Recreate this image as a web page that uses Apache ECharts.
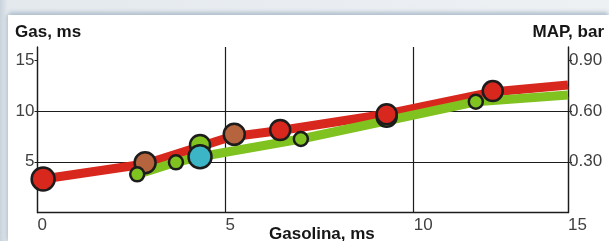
<!DOCTYPE html>
<html>
<head>
<meta charset="utf-8">
<script src="https://cdn.jsdelivr.net/npm/echarts@6/dist/echarts.min.js"></script>
<style>
	html, body { margin: 0; padding: 0; }
	body {
		width: 609px; height: 241px; overflow: hidden; position: relative;
		background: linear-gradient(90deg, #c9d3dc 0px, #e4e9ee 8px, #eef1f4 100%);
	}
	#panel {
		position: absolute; left: 8px; top: 15px; right: 0; bottom: 0;
		background: #fff;
		box-shadow: 0 -4px 4px -1px #b3c2cf, -2px 0 3px #c3ccd5;
	}
	#chart { position: absolute; left: 0; top: 0; width: 609px; height: 241px; }
</style>
</head>
<body>
<div id="panel"></div>
<div id="chart"></div>
<script>
	// axis extents (the "15" label sits at the right end)
	var xMax = 14.1;
	var yMax = 16.28;
	var mapPerMs = 0.06;

	var xTickValues = [0, 5, 10, xMax];
	var xTickLabels = ['0', '5', '10', '15'];
	var yLeftTicks = [5, 10, 15];
	var yRightTicks = [0.3, 0.6, 0.9];

	// thick curves [gasolina ms, gas ms]
	var redCurve = [[0.15, 3.31], [2.86, 4.78], [5.12, 7.44], [6.45, 8.07], [9.29, 9.70], [12.08, 11.85], [14.1, 12.54]];
	var greenCurve = [[2.65, 3.77], [3.68, 4.95], [4.32, 5.50], [7.0, 7.24], [11.65, 10.90], [14.1, 11.56]];

	// measured points
	var redDots = [[0.15, 3.31], [6.45, 8.12], [9.28, 9.67], [12.1, 11.95]];
	var brownDots = [[2.86, 4.91], [5.23, 7.70]];
	var greenBigDots = [[4.32, 6.65], [9.28, 9.42]];
	var greenSmallDots = [[2.65, 3.77], [3.68, 4.95], [7.0, 7.24], [11.65, 10.90]];
	var cyanDots = [[4.32, 5.50]];

	var ink = '#1c1c1c';
	var labelFont = { color: '#404040', fontSize: 17, fontFamily: 'Liberation Sans' };
	var titleFont = { fill: '#161616', fontSize: 17, fontWeight: 'bold', fontFamily: 'Liberation Sans' };

	var dots = function(data, color, size, z) {
		return {
			type: 'scatter', data: data, z: z, symbolSize: size,
			itemStyle: { color: color, borderColor: ink, borderWidth: 2.5, opacity: 1 },
			emphasis: { disabled: true }
		};
	};

	var curve = function(data, color, z) {
		return {
			type: 'line', data: data, z: z, symbol: 'none', smooth: false,
			lineStyle: { color: color, width: 9, cap: 'butt', join: 'round' },
			emphasis: { disabled: true }
		};
	};

	var chart = echarts.init(document.getElementById('chart'), null, { renderer: 'canvas' });

	chart.setOption({
		animation: false,
		grid: { left: 37.5, right: 41, top: 47, bottom: 28.3, containLabel: false },
		xAxis: {
			type: 'value', min: 0, max: xMax, interval: 5,
			axisLine: { show: true, lineStyle: { color: ink, width: 1.3 } },
			axisTick: { show: false },
			splitLine: { show: true, lineStyle: { color: ink, width: 1.2 } },
			axisLabel: Object.assign({
				align: 'left', margin: 4, showMaxLabel: true,
				customValues: xTickValues,
				formatter: function(v) {
					var i = xTickValues.indexOf(v);
					return i >= 0 ? xTickLabels[i] : '';
				}
			}, labelFont)
		},
		yAxis: [{
			type: 'value', min: 0, max: yMax, interval: 5,
			axisLine: { show: true, lineStyle: { color: ink, width: 1.3 } },
			axisTick: { show: true, length: 3, customValues: yLeftTicks, lineStyle: { color: ink } },
			splitLine: { show: true, showMaxLine: false, lineStyle: { color: ink, width: 1.2 } },
			axisLabel: Object.assign({ margin: 3, customValues: yLeftTicks }, labelFont)
		}, {
			type: 'value', position: 'right', min: 0, max: yMax * mapPerMs, interval: 0.3,
			axisLine: { show: true, lineStyle: { color: ink, width: 1.3 } },
			axisTick: { show: true, length: 4, customValues: yRightTicks, lineStyle: { color: ink } },
			splitLine: { show: false },
			axisLabel: Object.assign({
				margin: 1, customValues: yRightTicks,
				formatter: function(v) { return v.toFixed(2); }
			}, labelFont)
		}],
		graphic: [
			{ type: 'text', left: 15, top: 24, style: Object.assign({ text: 'Gas, ms' }, titleFont) },
			{ type: 'text', right: 5, top: 24, style: Object.assign({ text: 'MAP, bar', textAlign: 'right' }, titleFont) },
			{ type: 'text', left: 269, top: 226, style: Object.assign({ text: 'Gasolina, ms' }, titleFont) }
		],
		series: [
			curve(redCurve, '#d8281d', 2),
			curve(greenCurve, '#80c21f', 3),
			dots(greenBigDots, '#80c21f', 20, 4),
			dots(brownDots, '#b5643d', 21, 5),
			dots(redDots, '#d8281d', function(v, p) { return p.dataIndex === 0 ? 23 : 20; }, 6),
			dots(greenSmallDots, '#80c21f', 14, 7),
			dots(cyanDots, '#3cb5c6', 23, 8)
		]
	});
</script>
</body>
</html>
